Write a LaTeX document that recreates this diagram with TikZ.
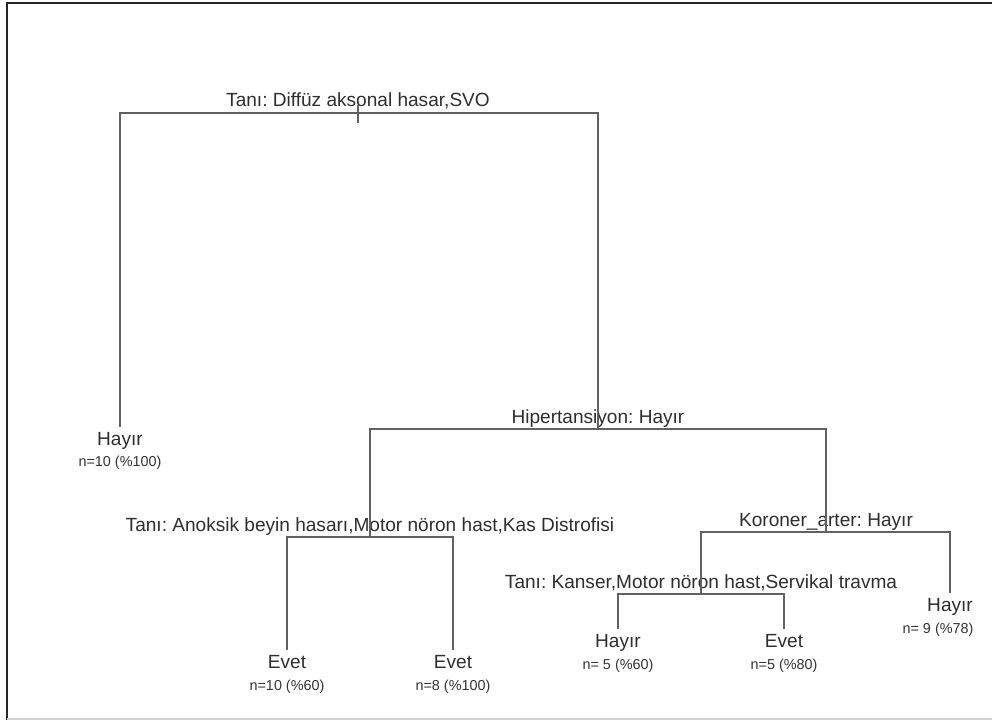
\documentclass[tikz,border=0pt]{standalone}
\usepackage{fontspec}
\setmainfont{Liberation Sans}
\frenchspacing
\usepackage{tikz}
\usetikzlibrary{positioning, calc, graphs}
\tikzset{
hv path/.style={to path={-| (\tikztotarget)}},
vh path/.style={to path={|- (\tikztotarget)}},
branch/.style={line width=0.9pt, draw=black!62},
split/.style={%
    inner sep=0pt, anchor=base, text=black!82,
    font=\fontsize{14.3}{16}\selectfont
},
leaf/.style={%
    inner sep=0pt, outer ysep=3.8pt, anchor=north, text=black!82,
    font=\fontsize{14.3}{16}\selectfont
},
count/.style={%
    inner sep=0pt, anchor=base, text=black!80,
    font=\fontsize{10.8}{13}\selectfont
},
frame/.style={line width=1.6pt, black!85},
}

\begin{document}
\begin{tikzpicture}[x=0.75pt, y=-0.75pt]
			\useasboundingbox (0,0) rectangle (992,720);
			\draw[frame] (7,720) -- (7,3) -- (992,3);
			\draw[black!18, line width=1pt] (7,719) -- (992,719);

			% split points
			\coordinate (s1) at (358,113);
			\coordinate (s2) at (598,429);
			\coordinate (s3) at (370,537);
			\coordinate (s4) at (826,532);
			\coordinate (s5) at (701,594);

			\node[split] (tani1) at ([yshift=4.5pt]s1) {Tanı: Diffüz aksonal hasar,SVO};
			\node[split] (hiper) at ([yshift=4.5pt]s2) {Hipertansiyon: Hayır};
			\node[split] (tani2) at ([yshift=4.5pt]s3) {Tanı: Anoksik beyin hasarı,Motor nöron hast,Kas Distrofisi};
			\node[split] (koroner) at ([yshift=4.5pt]s4) {Koroner\_arter: Hayır};
			\node[split] (tani3) at ([yshift=4.5pt]s5) {Tanı: Kanser,Motor nöron hast,Servikal travma};

			\node[leaf] (hayir1) at (120,427) {Hayır};
			\node[leaf] (evet1) at (287,650) {Evet};
			\node[leaf] (evet2) at (453,650) {Evet};
			\node[leaf] (hayir2) at (618,629) {Hayır};
			\node[leaf] (evet3) at (784,629) {Evet};
			\node[leaf] (hayir3) at (950,593) {Hayır};

			\node[count] (n1) at ([yshift=-16pt]hayir1.base) {n=10 (\%100)};
			\node[count] (n2) at ([yshift=-17pt]evet1.base) {n=10 (\%60)};
			\node[count] (n3) at ([yshift=-17pt]evet2.base) {n=8 (\%100)};
			\node[count] (n4) at ([yshift=-17pt]hayir2.base) {n= 5 (\%60)};
			\node[count] (n5) at ([yshift=-17pt]evet3.base) {n=5 (\%80)};
			\node[count] (n6) at ([xshift=-9pt, yshift=-17pt]hayir3.base) {n= 9 (\%78)};

			\draw[branch] ([yshift=6pt]s1) -- ([yshift=-7.5pt]s1);
			\graph [use existing nodes, edges={branch}] {
				hayir1 --[vh path] s1 --[hv path] s2;
				s3 --[vh path] s2 --[hv path] s4;
				evet1 --[vh path] s3 --[hv path] evet2;
				s5 --[vh path] s4 --[hv path] hayir3;
				hayir2 --[vh path] s5 --[hv path] evet3;
			};
\end{tikzpicture}
\end{document}
